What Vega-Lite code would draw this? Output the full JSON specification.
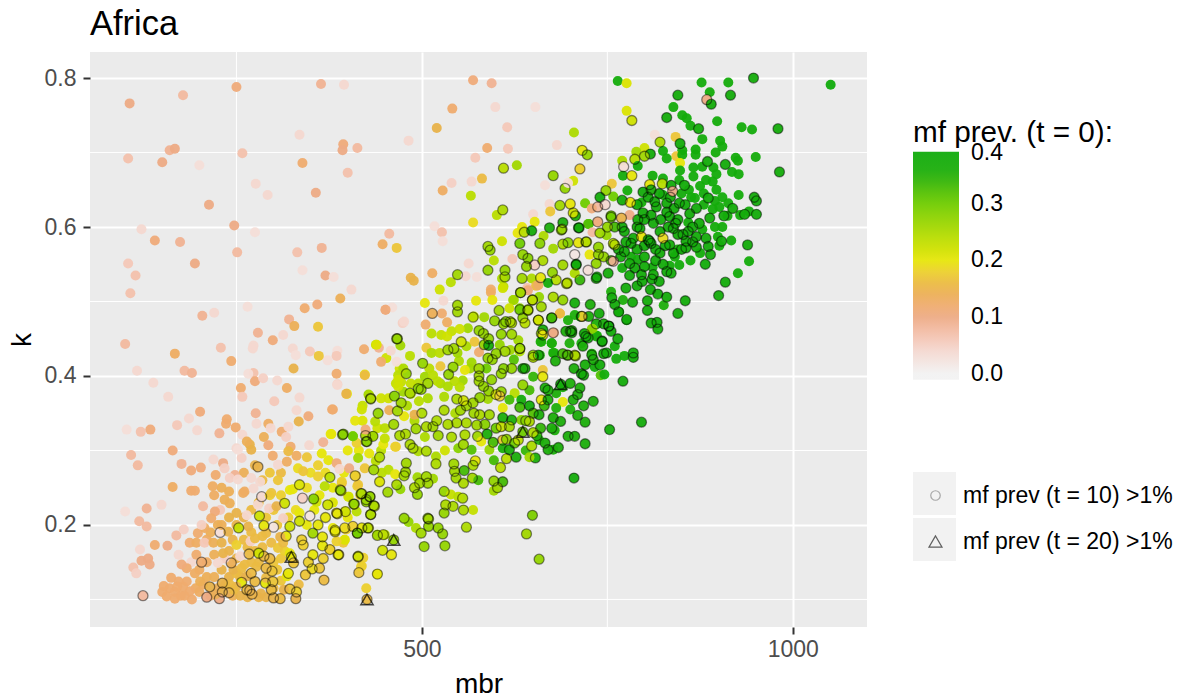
{"$schema":"https://vega.github.io/schema/vega-lite/v6.json","width":777,"height":575,"autosize":{"type":"none"},"padding":{"left":90,"top":52,"right":314,"bottom":71},"background":"white","view":{"fill":"#EBEBEB","stroke":null},"title":{"text":"Africa","anchor":"start","frame":"group","font":"Liberation Sans","fontSize":34.5,"fontWeight":"normal","color":"#000","offset":9},"config":{"font":"Liberation Sans"},"datasets":{"pts":[
{"mbr":790,"k":0.6,"prev":0.38,"ring":"t10"},{"mbr":800,"k":0.61,"prev":0.38,"ring":"t10"},{"mbr":812,"k":0.605,"prev":0.38,"ring":"t10"},{"mbr":822,"k":0.61,"prev":0.38,"ring":"t10"},{"mbr":832,"k":0.6,"prev":0.38,"ring":"t10"},{"mbr":842,"k":0.605,"prev":0.38,"ring":"t10"},{"mbr":852,"k":0.59,"prev":0.38,"ring":"t10"},{"mbr":865,"k":0.6,"prev":0.38,"ring":"t10"},{"mbr":878,"k":0.597,"prev":0.38},{"mbr":895,"k":0.6,"prev":0.38},{"mbr":905,"k":0.6,"prev":0.38},{"mbr":785,"k":0.585,"prev":0.38,"ring":"t10"},{"mbr":800,"k":0.575,"prev":0.38,"ring":"t10"},{"mbr":815,"k":0.57,"prev":0.38,"ring":"t10"},{"mbr":828,"k":0.575,"prev":0.38,"ring":"t10"},{"mbr":845,"k":0.59,"prev":0.38,"ring":"t10"},{"mbr":850,"k":0.57,"prev":0.38,"ring":"t10"},{"mbr":865,"k":0.58,"prev":0.38,"ring":"t10"},{"mbr":875,"k":0.565,"prev":0.38},{"mbr":830,"k":0.62,"prev":0.38,"ring":"t10"},{"mbr":840,"k":0.625,"prev":0.38,"ring":"t10"},{"mbr":855,"k":0.63,"prev":0.38,"ring":"t10"},{"mbr":870,"k":0.625,"prev":0.38,"ring":"t10"},{"mbr":880,"k":0.63,"prev":0.38},{"mbr":895,"k":0.635,"prev":0.38},{"mbr":905,"k":0.64,"prev":0.38},{"mbr":820,"k":0.645,"prev":0.38,"ring":"t10"},{"mbr":835,"k":0.64,"prev":0.38,"ring":"t10"},{"mbr":860,"k":0.65,"prev":0.38},{"mbr":875,"k":0.655,"prev":0.38},{"mbr":790,"k":0.63,"prev":0.38,"ring":"t10"},{"mbr":805,"k":0.64,"prev":0.38,"ring":"t10"},{"mbr":770,"k":0.6,"prev":0.38,"ring":"t10"},{"mbr":760,"k":0.6,"prev":0.33,"ring":"t10"},{"mbr":750,"k":0.6,"prev":0.27,"ring":"t10"},{"mbr":775,"k":0.58,"prev":0.38,"ring":"t10"},{"mbr":765,"k":0.57,"prev":0.38,"ring":"t10"},{"mbr":815,"k":0.555,"prev":0.38,"ring":"t10"},{"mbr":825,"k":0.55,"prev":0.38,"ring":"t10"},{"mbr":845,"k":0.57,"prev":0.38},{"mbr":800,"k":0.56,"prev":0.38,"ring":"t10"},{"mbr":790,"k":0.57,"prev":0.38,"ring":"t10"},{"mbr":810,"k":0.53,"prev":0.38,"ring":"t10"},{"mbr":780,"k":0.535,"prev":0.38,"ring":"t10"},{"mbr":770,"k":0.545,"prev":0.38},{"mbr":755,"k":0.555,"prev":0.33,"ring":"t10"},{"mbr":745,"k":0.56,"prev":0.27,"ring":"t10"},
{"mbr":745,"k":0.47,"prev":0.37,"ring":"t10"},{"mbr":755,"k":0.46,"prev":0.38,"ring":"t10"},{"mbr":735,"k":0.47,"prev":0.36,"ring":"t10"},{"mbr":725,"k":0.48,"prev":0.36,"ring":"t10"},{"mbr":760,"k":0.44,"prev":0.38},{"mbr":745,"k":0.43,"prev":0.38,"ring":"t10"},{"mbr":700,"k":0.46,"prev":0.34,"ring":"t10"},{"mbr":690,"k":0.43,"prev":0.33,"ring":"t10"},{"mbr":680,"k":0.42,"prev":0.36,"ring":"t10"},{"mbr":740,"k":0.415,"prev":0.38,"ring":"t10"},{"mbr":700,"k":0.39,"prev":0.36,"ring":"t10"},{"mbr":690,"k":0.385,"prev":0.36},{"mbr":705,"k":0.41,"prev":0.36,"ring":"t10"},{"mbr":720,"k":0.415,"prev":0.37,"ring":"t10"},{"mbr":665,"k":0.36,"prev":0.34,"ring":"t10"},{"mbr":650,"k":0.35,"prev":0.32,"ring":"t10"},{"mbr":640,"k":0.34,"prev":0.31,"ring":"t10"},{"mbr":675,"k":0.33,"prev":0.36,"ring":"t10"},{"mbr":660,"k":0.33,"prev":0.34,"ring":"t10"},{"mbr":625,"k":0.31,"prev":0.3,"ring":"t10"},{"mbr":640,"k":0.3,"prev":0.34},{"mbr":655,"k":0.32,"prev":0.34,"ring":"t10"},{"mbr":600,"k":0.33,"prev":0.3,"ring":"t10"},{"mbr":585,"k":0.335,"prev":0.28,"ring":"t10"},
{"mbr":500,"k":0.35,"prev":0.25,"ring":"t10"},{"mbr":480,"k":0.36,"prev":0.25},{"mbr":520,"k":0.34,"prev":0.25,"ring":"t10"},{"mbr":535,"k":0.335,"prev":0.25,"ring":"t10"},{"mbr":560,"k":0.36,"prev":0.26,"ring":"t10"},{"mbr":570,"k":0.35,"prev":0.26,"ring":"t10"},{"mbr":545,"k":0.35,"prev":0.25},{"mbr":590,"k":0.38,"prev":0.27,"ring":"t10"},{"mbr":610,"k":0.41,"prev":0.28,"ring":"t10"},{"mbr":600,"k":0.43,"prev":0.27,"ring":"t10"},{"mbr":565,"k":0.41,"prev":0.26},{"mbr":550,"k":0.42,"prev":0.25},{"mbr":590,"k":0.45,"prev":0.27,"ring":"t10"},{"mbr":610,"k":0.47,"prev":0.27,"ring":"t10"},{"mbr":560,"k":0.44,"prev":0.25},{"mbr":540,"k":0.46,"prev":0.23},{"mbr":570,"k":0.48,"prev":0.23},{"mbr":525,"k":0.39,"prev":0.25},{"mbr":510,"k":0.41,"prev":0.24},{"mbr":495,"k":0.39,"prev":0.24},{"mbr":485,"k":0.39,"prev":0.23},{"mbr":470,"k":0.41,"prev":0.22},{"mbr":455,"k":0.37,"prev":0.22},{"mbr":445,"k":0.37,"prev":0.22},{"mbr":440,"k":0.33,"prev":0.22},{"mbr":420,"k":0.34,"prev":0.21},{"mbr":410,"k":0.34,"prev":0.2},{"mbr":450,"k":0.33,"prev":0.24},{"mbr":470,"k":0.32,"prev":0.25,"ring":"t10"},{"mbr":490,"k":0.34,"prev":0.25},{"mbr":415,"k":0.3,"prev":0.2},{"mbr":400,"k":0.3,"prev":0.2},{"mbr":445,"k":0.3,"prev":0.24},{"mbr":395,"k":0.27,"prev":0.2},{"mbr":380,"k":0.25,"prev":0.2},{"mbr":370,"k":0.27,"prev":0.19},{"mbr":360,"k":0.28,"prev":0.18},{"mbr":350,"k":0.27,"prev":0.19},{"mbr":345,"k":0.25,"prev":0.19},{"mbr":370,"k":0.21,"prev":0.2,"ring":"t10"},{"mbr":355,"k":0.22,"prev":0.2},{"mbr":380,"k":0.23,"prev":0.21},{"mbr":400,"k":0.21,"prev":0.2},{"mbr":360,"k":0.2,"prev":0.2,"ring":"t10"},{"mbr":345,"k":0.2,"prev":0.2},{"mbr":330,"k":0.22,"prev":0.19},{"mbr":320,"k":0.21,"prev":0.18},{"mbr":305,"k":0.2,"prev":0.17},
{"mbr":200,"k":0.14,"prev":0.13},{"mbr":210,"k":0.13,"prev":0.14},{"mbr":220,"k":0.13,"prev":0.14},{"mbr":230,"k":0.14,"prev":0.15},{"mbr":240,"k":0.13,"prev":0.15},{"mbr":210,"k":0.15,"prev":0.13},{"mbr":220,"k":0.16,"prev":0.14},{"mbr":240,"k":0.165,"prev":0.15},{"mbr":250,"k":0.155,"prev":0.15},{"mbr":265,"k":0.17,"prev":0.16},{"mbr":275,"k":0.165,"prev":0.16},{"mbr":285,"k":0.17,"prev":0.16},{"mbr":280,"k":0.15,"prev":0.16},{"mbr":270,"k":0.15,"prev":0.16},{"mbr":255,"k":0.13,"prev":0.15},{"mbr":235,"k":0.12,"prev":0.15},{"mbr":225,"k":0.115,"prev":0.14},{"mbr":215,"k":0.105,"prev":0.13},{"mbr":200,"k":0.11,"prev":0.13},{"mbr":195,"k":0.115,"prev":0.13},{"mbr":190,"k":0.1,"prev":0.12},{"mbr":205,"k":0.12,"prev":0.13},{"mbr":175,"k":0.105,"prev":0.12},{"mbr":180,"k":0.105,"prev":0.12},{"mbr":160,"k":0.115,"prev":0.12},{"mbr":150,"k":0.11,"prev":0.12},{"mbr":245,"k":0.105,"prev":0.14},{"mbr":255,"k":0.105,"prev":0.15},{"mbr":265,"k":0.103,"prev":0.15},{"mbr":280,"k":0.103,"prev":0.15},{"mbr":290,"k":0.103,"prev":0.15},{"mbr":300,"k":0.115,"prev":0.16},{"mbr":310,"k":0.125,"prev":0.17},{"mbr":305,"k":0.14,"prev":0.17},{"mbr":310,"k":0.155,"prev":0.17},{"mbr":315,"k":0.165,"prev":0.18},{"mbr":300,"k":0.15,"prev":0.17},{"mbr":285,"k":0.185,"prev":0.16},{"mbr":270,"k":0.19,"prev":0.16},{"mbr":260,"k":0.21,"prev":0.15},{"mbr":270,"k":0.22,"prev":0.16},{"mbr":280,"k":0.23,"prev":0.16},{"mbr":250,"k":0.2,"prev":0.15},{"mbr":240,"k":0.21,"prev":0.15},{"mbr":225,"k":0.2,"prev":0.14},{"mbr":215,"k":0.19,"prev":0.14},{"mbr":210,"k":0.18,"prev":0.13},{"mbr":260,"k":0.18,"prev":0.16},{"mbr":245,"k":0.18,"prev":0.15},{"mbr":290,"k":0.21,"prev":0.17},{"mbr":300,"k":0.22,"prev":0.17},{"mbr":310,"k":0.24,"prev":0.18},{"mbr":285,"k":0.26,"prev":0.16},{"mbr":295,"k":0.27,"prev":0.17},{"mbr":310,"k":0.27,"prev":0.16},{"mbr":275,"k":0.28,"prev":0.15},{"mbr":260,"k":0.27,"prev":0.14},{"mbr":240,"k":0.245,"prev":0.14},{"mbr":230,"k":0.25,"prev":0.14},{"mbr":220,"k":0.24,"prev":0.13},
{"mbr":106,"k":0.766,"prev":0.1},{"mbr":178,"k":0.777,"prev":0.08},{"mbr":250,"k":0.788,"prev":0.11},{"mbr":364,"k":0.792,"prev":0.09},{"mbr":395,"k":0.791,"prev":0.04},{"mbr":335,"k":0.724,"prev":0.04},{"mbr":394,"k":0.711,"prev":0.11},{"mbr":393,"k":0.703,"prev":0.1},{"mbr":413,"k":0.706,"prev":0.08},{"mbr":482,"k":0.716,"prev":0.04},{"mbr":160,"k":0.703,"prev":0.09},{"mbr":167,"k":0.705,"prev":0.1},{"mbr":104,"k":0.692,"prev":0.07},{"mbr":150,"k":0.687,"prev":0.1},{"mbr":200,"k":0.683,"prev":0.03},{"mbr":258,"k":0.699,"prev":0.07},{"mbr":339,"k":0.686,"prev":0.12},{"mbr":400,"k":0.673,"prev":0.07},{"mbr":276,"k":0.658,"prev":0.04},{"mbr":292,"k":0.643,"prev":0.04},{"mbr":357,"k":0.646,"prev":0.1},{"mbr":213,"k":0.63,"prev":0.1},{"mbr":247,"k":0.602,"prev":0.1},{"mbr":122,"k":0.597,"prev":0.04},{"mbr":275,"k":0.593,"prev":0.03},{"mbr":140,"k":0.582,"prev":0.11},{"mbr":174,"k":0.58,"prev":0.09},{"mbr":251,"k":0.566,"prev":0.08},{"mbr":332,"k":0.566,"prev":0.07},{"mbr":365,"k":0.572,"prev":0.09},{"mbr":456,"k":0.591,"prev":0.08},{"mbr":447,"k":0.577,"prev":0.13},{"mbr":466,"k":0.572,"prev":0.17},{"mbr":104,"k":0.551,"prev":0.06},{"mbr":114,"k":0.535,"prev":0.07},{"mbr":107,"k":0.511,"prev":0.07},{"mbr":194,"k":0.551,"prev":0.1},{"mbr":339,"k":0.542,"prev":0.03},{"mbr":370,"k":0.535,"prev":0.1},{"mbr":381,"k":0.533,"prev":0.03},{"mbr":485,"k":0.532,"prev":0.15},{"mbr":489,"k":0.528,"prev":0.15},{"mbr":405,"k":0.516,"prev":0.04},{"mbr":390,"k":0.504,"prev":0.14},{"mbr":359,"k":0.496,"prev":0.11},{"mbr":342,"k":0.491,"prev":0.12},{"mbr":265,"k":0.493,"prev":0.03},{"mbr":204,"k":0.481,"prev":0.09},{"mbr":220,"k":0.485,"prev":0.04},{"mbr":321,"k":0.476,"prev":0.09},{"mbr":328,"k":0.467,"prev":0.14},{"mbr":360,"k":0.466,"prev":0.17},{"mbr":451,"k":0.489,"prev":0.1},{"mbr":460,"k":0.492,"prev":0.03},{"mbr":474,"k":0.471,"prev":0.05},{"mbr":279,"k":0.458,"prev":0.09},{"mbr":313,"k":0.455,"prev":0.04},{"mbr":299,"k":0.448,"prev":0.11},{"mbr":100,"k":0.443,"prev":0.08},{"mbr":273,"k":0.441,"prev":0.04},{"mbr":272,"k":0.437,"prev":0.04},{"mbr":326,"k":0.437,"prev":0.04},{"mbr":330,"k":0.428,"prev":0.03},{"mbr":349,"k":0.433,"prev":0.06},{"mbr":386,"k":0.434,"prev":0.03},{"mbr":385,"k":0.427,"prev":0.06},{"mbr":373,"k":0.421,"prev":0.03},{"mbr":361,"k":0.427,"prev":0.17},{"mbr":422,"k":0.436,"prev":0.12},{"mbr":438,"k":0.442,"prev":0.23},{"mbr":442,"k":0.438,"prev":0.09},{"mbr":452,"k":0.424,"prev":0.22},{"mbr":445,"k":0.419,"prev":0.12},{"mbr":458,"k":0.434,"prev":0.04},{"mbr":466,"k":0.419,"prev":0.03},{"mbr":167,"k":0.43,"prev":0.13},{"mbr":229,"k":0.438,"prev":0.07},{"mbr":243,"k":0.42,"prev":0.12},{"mbr":116,"k":0.407,"prev":0.04},{"mbr":180,"k":0.407,"prev":0.08},{"mbr":190,"k":0.404,"prev":0.09},{"mbr":327,"k":0.41,"prev":0.15},{"mbr":385,"k":0.403,"prev":0.12},{"mbr":423,"k":0.402,"prev":0.2},{"mbr":484,"k":0.427,"prev":0.24},{"mbr":138,"k":0.391,"prev":0.04},{"mbr":273,"k":0.404,"prev":0.07},{"mbr":266,"k":0.403,"prev":0.03},{"mbr":275,"k":0.393,"prev":0.11},{"mbr":286,"k":0.397,"prev":0.05},{"mbr":305,"k":0.394,"prev":0.04},{"mbr":256,"k":0.384,"prev":0.12},{"mbr":318,"k":0.384,"prev":0.13},{"mbr":386,"k":0.389,"prev":0.05},{"mbr":399,"k":0.376,"prev":0.2},{"mbr":158,"k":0.372,"prev":0.04},{"mbr":258,"k":0.372,"prev":0.06},{"mbr":301,"k":0.366,"prev":0.06},{"mbr":335,"k":0.371,"prev":0.04},
{"mbr":466,"k":0.45,"prev":0.26,"ring":"t10"},{"mbr":471,"k":0.441,"prev":0.26},{"mbr":479,"k":0.403,"prev":0.27,"ring":"t10"},{"mbr":475,"k":0.41,"prev":0.25},{"mbr":468,"k":0.401,"prev":0.24},{"mbr":465,"k":0.39,"prev":0.23},{"mbr":472,"k":0.392,"prev":0.23},{"mbr":431,"k":0.37,"prev":0.26,"ring":"t10"},{"mbr":428,"k":0.375,"prev":0.26},{"mbr":463,"k":0.373,"prev":0.28,"ring":"t10"},{"mbr":484,"k":0.377,"prev":0.27,"ring":"t10"},{"mbr":495,"k":0.383,"prev":0.28,"ring":"t10"},{"mbr":475,"k":0.379,"prev":0.26},
{"mbr":569,"k":0.797,"prev":0.11},{"mbr":594,"k":0.793,"prev":0.09},{"mbr":541,"k":0.759,"prev":0.12},{"mbr":599,"k":0.761,"prev":0.04},{"mbr":653,"k":0.761,"prev":0.03},{"mbr":615,"k":0.734,"prev":0.06},{"mbr":520,"k":0.733,"prev":0.15},{"mbr":705,"k":0.727,"prev":0.25},{"mbr":588,"k":0.706,"prev":0.12},{"mbr":616,"k":0.705,"prev":0.06},{"mbr":682,"k":0.71,"prev":0.04},{"mbr":572,"k":0.693,"prev":0.06},{"mbr":716,"k":0.703,"prev":0.2,"ring":"t10"},{"mbr":723,"k":0.697,"prev":0.27,"ring":"t10"},{"mbr":610,"k":0.679,"prev":0.24,"ring":"t10"},{"mbr":628,"k":0.683,"prev":0.26},{"mbr":713,"k":0.678,"prev":0.18,"ring":"t10"},{"mbr":677,"k":0.669,"prev":0.27,"ring":"t10"},{"mbr":704,"k":0.662,"prev":0.22},{"mbr":693,"k":0.652,"prev":0.27,"ring":"t10"},{"mbr":581,"k":0.665,"prev":0.16},{"mbr":540,"k":0.659,"prev":0.05},{"mbr":567,"k":0.661,"prev":0.04},{"mbr":528,"k":0.649,"prev":0.13},{"mbr":566,"k":0.642,"prev":0.24},{"mbr":666,"k":0.656,"prev":0.03},{"mbr":697,"k":0.659,"prev":0.03},{"mbr":672,"k":0.631,"prev":0.04},{"mbr":686,"k":0.629,"prev":0.26,"ring":"t10"},{"mbr":700,"k":0.631,"prev":0.2,"ring":"t10"},{"mbr":720,"k":0.632,"prev":0.3},{"mbr":609,"k":0.623,"prev":0.25,"ring":"t10"},{"mbr":601,"k":0.616,"prev":0.24},{"mbr":650,"k":0.617,"prev":0.04},{"mbr":673,"k":0.621,"prev":0.17},{"mbr":569,"k":0.606,"prev":0.19},{"mbr":517,"k":0.601,"prev":0.03},{"mbr":527,"k":0.593,"prev":0.07},{"mbr":528,"k":0.581,"prev":0.03},{"mbr":652,"k":0.607,"prev":0.2},{"mbr":635,"k":0.6,"prev":0.2},{"mbr":629,"k":0.592,"prev":0.2},{"mbr":638,"k":0.593,"prev":0.24,"ring":"t10"},{"mbr":648,"k":0.595,"prev":0.38,"ring":"t10"},{"mbr":664,"k":0.588,"prev":0.25},{"mbr":672,"k":0.599,"prev":0.36,"ring":"t10"},{"mbr":690,"k":0.606,"prev":0.36,"ring":"t10"},{"mbr":689,"k":0.597,"prev":0.27,"ring":"t10"},{"mbr":712,"k":0.599,"prev":0.36,"ring":"t10"},{"mbr":725,"k":0.604,"prev":0.34},{"mbr":707,"k":0.615,"prev":0.35,"ring":"t10"},{"mbr":704,"k":0.619,"prev":0.22,"ring":"t10"},{"mbr":608,"k":0.581,"prev":0.22},{"mbr":632,"k":0.578,"prev":0.3,"ring":"t10"},{"mbr":659,"k":0.578,"prev":0.28,"ring":"t10"},{"mbr":677,"k":0.571,"prev":0.26},{"mbr":690,"k":0.577,"prev":0.25,"ring":"t10"},{"mbr":697,"k":0.579,"prev":0.28,"ring":"t10"},{"mbr":711,"k":0.579,"prev":0.2,"ring":"t10"},{"mbr":721,"k":0.58,"prev":0.3,"ring":"t10"},{"mbr":589,"k":0.574,"prev":0.26,"ring":"t10"},{"mbr":592,"k":0.569,"prev":0.27,"ring":"t10"},{"mbr":597,"k":0.555,"prev":0.24},{"mbr":636,"k":0.563,"prev":0.27,"ring":"t10"},{"mbr":643,"k":0.558,"prev":0.28,"ring":"t10"},{"mbr":663,"k":0.555,"prev":0.25,"ring":"t10"},{"mbr":563,"k":0.551,"prev":0.04},{"mbr":622,"k":0.557,"prev":0.06},{"mbr":706,"k":0.563,"prev":0.02,"ring":"t10"},{"mbr":708,"k":0.549,"prev":0.39,"ring":"t10"},{"mbr":690,"k":0.549,"prev":0.26,"ring":"t10"},{"mbr":652,"k":0.549,"prev":0.05,"ring":"t10"},{"mbr":641,"k":0.547,"prev":0.27,"ring":"t10"},{"mbr":589,"k":0.542,"prev":0.27,"ring":"t10"},{"mbr":612,"k":0.542,"prev":0.27,"ring":"t10"},{"mbr":612,"k":0.533,"prev":0.27,"ring":"t10"},{"mbr":635,"k":0.531,"prev":0.26,"ring":"t10"},{"mbr":660,"k":0.532,"prev":0.2,"ring":"t10"},{"mbr":676,"k":0.539,"prev":0.27,"ring":"t10"},{"mbr":724,"k":0.542,"prev":0.03,"ring":"t10"},{"mbr":548,"k":0.536,"prev":0.26,"ring":"t10"},{"mbr":514,"k":0.538,"prev":0.13},{"mbr":539,"k":0.526,"prev":0.24},{"mbr":559,"k":0.534,"prev":0.04},{"mbr":574,"k":0.533,"prev":0.03},{"mbr":608,"k":0.531,"prev":0.25},{"mbr":648,"k":0.531,"prev":0.25},{"mbr":681,"k":0.529,"prev":0.24,"ring":"t10"},{"mbr":696,"k":0.525,"prev":0.26,"ring":"t10"},{"mbr":713,"k":0.529,"prev":0.34,"ring":"t10"},{"mbr":735,"k":0.531,"prev":0.36,"ring":"t10"},{"mbr":524,"k":0.516,"prev":0.22},{"mbr":593,"k":0.516,"prev":0.12},{"mbr":610,"k":0.52,"prev":0.24},{"mbr":642,"k":0.518,"prev":0.07},
{"mbr":764,"k":0.796,"prev":0.38},{"mbr":776,"k":0.793,"prev":0.21},{"mbr":877,"k":0.794,"prev":0.38},{"mbr":913,"k":0.794,"prev":0.38},{"mbr":947,"k":0.8,"prev":0.38,"ring":"t10"},{"mbr":1051,"k":0.791,"prev":0.39},{"mbr":845,"k":0.777,"prev":0.38,"ring":"t10"},{"mbr":888,"k":0.781,"prev":0.38},{"mbr":916,"k":0.777,"prev":0.38,"ring":"t10"},{"mbr":884,"k":0.771,"prev":0.1,"ring":"t10"},{"mbr":890,"k":0.765,"prev":0.38,"ring":"t10"},{"mbr":839,"k":0.761,"prev":0.38},{"mbr":776,"k":0.756,"prev":0.21},{"mbr":783,"k":0.743,"prev":0.22,"ring":"t10"},{"mbr":851,"k":0.75,"prev":0.38},{"mbr":857,"k":0.746,"prev":0.38},{"mbr":830,"k":0.747,"prev":0.38,"ring":"t10"},{"mbr":898,"k":0.742,"prev":0.38},{"mbr":862,"k":0.736,"prev":0.38},{"mbr":873,"k":0.732,"prev":0.38,"ring":"t10"},{"mbr":931,"k":0.734,"prev":0.38},{"mbr":945,"k":0.731,"prev":0.38},{"mbr":980,"k":0.732,"prev":0.38,"ring":"t10"},{"mbr":878,"k":0.718,"prev":0.38},{"mbr":814,"k":0.724,"prev":0.03},{"mbr":842,"k":0.721,"prev":0.17},{"mbr":821,"k":0.714,"prev":0.25,"ring":"t10"},{"mbr":848,"k":0.712,"prev":0.38,"ring":"t10"},{"mbr":902,"k":0.716,"prev":0.38},{"mbr":905,"k":0.708,"prev":0.38},{"mbr":869,"k":0.704,"prev":0.38},{"mbr":851,"k":0.703,"prev":0.38},{"mbr":825,"k":0.702,"prev":0.38},{"mbr":896,"k":0.7,"prev":0.38},{"mbr":869,"k":0.697,"prev":0.38},{"mbr":843,"k":0.695,"prev":0.17},{"mbr":830,"k":0.692,"prev":0.38},{"mbr":851,"k":0.697,"prev":0.38},{"mbr":800,"k":0.706,"prev":0.22},{"mbr":789,"k":0.701,"prev":0.26},{"mbr":808,"k":0.698,"prev":0.38,"ring":"t10"},{"mbr":800,"k":0.695,"prev":0.26,"ring":"t10"},{"mbr":787,"k":0.691,"prev":0.24,"ring":"t10"},{"mbr":770,"k":0.689,"prev":0.25},{"mbr":772,"k":0.681,"prev":0.03,"ring":"t10"},{"mbr":791,"k":0.682,"prev":0.38},{"mbr":848,"k":0.686,"prev":0.2},{"mbr":848,"k":0.676,"prev":0.38},{"mbr":866,"k":0.68,"prev":0.38},{"mbr":878,"k":0.681,"prev":0.38},{"mbr":885,"k":0.688,"prev":0.38,"ring":"t10"},{"mbr":893,"k":0.68,"prev":0.38},{"mbr":909,"k":0.684,"prev":0.38,"ring":"t10"},{"mbr":923,"k":0.693,"prev":0.38},{"mbr":926,"k":0.689,"prev":0.38},{"mbr":950,"k":0.694,"prev":0.38},{"mbr":918,"k":0.674,"prev":0.38},{"mbr":927,"k":0.671,"prev":0.38},{"mbr":897,"k":0.671,"prev":0.38},{"mbr":982,"k":0.674,"prev":0.38,"ring":"t10"},{"mbr":771,"k":0.669,"prev":0.38},{"mbr":783,"k":0.669,"prev":0.2,"ring":"t10"},{"mbr":811,"k":0.669,"prev":0.38},{"mbr":866,"k":0.668,"prev":0.38},{"mbr":883,"k":0.663,"prev":0.38},{"mbr":825,"k":0.665,"prev":0.38},{"mbr":847,"k":0.663,"prev":0.38},{"mbr":854,"k":0.656,"prev":0.38,"ring":"t10"},{"mbr":807,"k":0.657,"prev":0.2,"ring":"t10"},{"mbr":824,"k":0.658,"prev":0.24,"ring":"t10"},{"mbr":836,"k":0.656,"prev":0.38,"ring":"t10"},{"mbr":892,"k":0.661,"prev":0.38},{"mbr":897,"k":0.65,"prev":0.38},{"mbr":756,"k":0.658,"prev":0.17},{"mbr":748,"k":0.649,"prev":0.27,"ring":"t10"},{"mbr":777,"k":0.649,"prev":0.38},{"mbr":798,"k":0.647,"prev":0.38,"ring":"t10"},{"mbr":809,"k":0.65,"prev":0.36,"ring":"t10"},{"mbr":838,"k":0.648,"prev":0.1,"ring":"t10"},{"mbr":825,"k":0.643,"prev":0.38},{"mbr":850,"k":0.645,"prev":0.38},{"mbr":863,"k":0.64,"prev":0.38},{"mbr":880,"k":0.645,"prev":0.38},{"mbr":886,"k":0.639,"prev":0.38,"ring":"t10"},{"mbr":927,"k":0.643,"prev":0.38},{"mbr":948,"k":0.64,"prev":0.38,"ring":"t10"},{"mbr":951,"k":0.635,"prev":0.38,"ring":"t10"},{"mbr":740,"k":0.64,"prev":0.38,"ring":"t10"},{"mbr":758,"k":0.641,"prev":0.3},{"mbr":770,"k":0.636,"prev":0.38,"ring":"t10"},{"mbr":781,"k":0.633,"prev":0.2,"ring":"t10"},{"mbr":796,"k":0.633,"prev":0.38},{"mbr":814,"k":0.634,"prev":0.38,"ring":"t10"},{"mbr":830,"k":0.632,"prev":0.38,"ring":"t10"},{"mbr":847,"k":0.632,"prev":0.38,"ring":"t10"},{"mbr":868,"k":0.639,"prev":0.38},{"mbr":892,"k":0.624,"prev":0.38},{"mbr":901,"k":0.627,"prev":0.38},{"mbr":919,"k":0.625,"prev":0.38,"ring":"t10"},{"mbr":913,"k":0.632,"prev":0.38},{"mbr":907,"k":0.615,"prev":0.38,"ring":"t10"},{"mbr":912,"k":0.615,"prev":0.38},{"mbr":929,"k":0.616,"prev":0.38},{"mbr":935,"k":0.617,"prev":0.38,"ring":"t10"},{"mbr":941,"k":0.621,"prev":0.38},{"mbr":951,"k":0.617,"prev":0.38,"ring":"t10"},{"mbr":888,"k":0.612,"prev":0.38,"ring":"t10"},{"mbr":874,"k":0.605,"prev":0.38,"ring":"t10"},{"mbr":861,"k":0.618,"prev":0.38,"ring":"t10"},{"mbr":859,"k":0.606,"prev":0.38},{"mbr":845,"k":0.61,"prev":0.38,"ring":"t10"},{"mbr":834,"k":0.614,"prev":0.38,"ring":"t10"},{"mbr":816,"k":0.627,"prev":0.38,"ring":"t10"},{"mbr":809,"k":0.616,"prev":0.38,"ring":"t10"},{"mbr":798,"k":0.619,"prev":0.38,"ring":"t10"},{"mbr":791,"k":0.61,"prev":0.38,"ring":"t10"},{"mbr":780,"k":0.616,"prev":0.1},{"mbr":769,"k":0.612,"prev":0.15,"ring":"t10"},{"mbr":755,"k":0.615,"prev":0.3,"ring":"t10"},{"mbr":755,"k":0.613,"prev":0.3,"ring":"t10"},{"mbr":747,"k":0.63,"prev":0.04,"ring":"t10"},{"mbr":737,"k":0.627,"prev":0.08,"ring":"t10"},{"mbr":729,"k":0.625,"prev":0.11},{"mbr":737,"k":0.607,"prev":0.11,"ring":"t10"},{"mbr":724,"k":0.604,"prev":0.32},{"mbr":711,"k":0.599,"prev":0.38,"ring":"t10"},{"mbr":688,"k":0.596,"prev":0.27,"ring":"t10"},{"mbr":722,"k":0.58,"prev":0.24,"ring":"t10"},{"mbr":730,"k":0.593,"prev":0.08},{"mbr":740,"k":0.592,"prev":0.26,"ring":"t10"},{"mbr":760,"k":0.576,"prev":0.27,"ring":"t10"},{"mbr":749,"k":0.589,"prev":0.27},{"mbr":773,"k":0.594,"prev":0.38,"ring":"t10"},{"mbr":758,"k":0.578,"prev":0.24,"ring":"t10"},{"mbr":782,"k":0.578,"prev":0.38,"ring":"t10"},{"mbr":794,"k":0.598,"prev":0.38,"ring":"t10"},{"mbr":796,"k":0.587,"prev":0.2,"ring":"t10"},{"mbr":807,"k":0.581,"prev":0.38,"ring":"t10"},{"mbr":821,"k":0.594,"prev":0.38,"ring":"t10"},{"mbr":834,"k":0.576,"prev":0.38,"ring":"t10"},{"mbr":825,"k":0.585,"prev":0.19,"ring":"t10"},{"mbr":839,"k":0.598,"prev":0.38,"ring":"t10"},{"mbr":859,"k":0.594,"prev":0.38,"ring":"t10"},{"mbr":856,"k":0.581,"prev":0.38,"ring":"t10"},{"mbr":870,"k":0.587,"prev":0.38,"ring":"t10"},{"mbr":883,"k":0.585,"prev":0.38,"ring":"t10"},{"mbr":899,"k":0.587,"prev":0.38},{"mbr":904,"k":0.581,"prev":0.38,"ring":"t10"},{"mbr":901,"k":0.575,"prev":0.38},{"mbr":917,"k":0.582,"prev":0.38},{"mbr":939,"k":0.576,"prev":0.38,"ring":"t10"},{"mbr":886,"k":0.574,"prev":0.38,"ring":"t10"},{"mbr":856,"k":0.572,"prev":0.38,"ring":"t10"},{"mbr":870,"k":0.573,"prev":0.38,"ring":"t10"},{"mbr":889,"k":0.563,"prev":0.38,"ring":"t10"},{"mbr":941,"k":0.554,"prev":0.38},{"mbr":862,"k":0.555,"prev":0.38},{"mbr":882,"k":0.55,"prev":0.38,"ring":"t10"},{"mbr":926,"k":0.538,"prev":0.38},{"mbr":909,"k":0.526,"prev":0.38,"ring":"t10"},{"mbr":900,"k":0.508,"prev":0.38,"ring":"t10"},{"mbr":855,"k":0.501,"prev":0.38,"ring":"t10"},{"mbr":830,"k":0.506,"prev":0.38,"ring":"t10"},{"mbr":845,"k":0.484,"prev":0.38,"ring":"t10"},{"mbr":826,"k":0.495,"prev":0.36},{"mbr":818,"k":0.51,"prev":0.38,"ring":"t10"},{"mbr":804,"k":0.501,"prev":0.38,"ring":"t10"},{"mbr":804,"k":0.488,"prev":0.38,"ring":"t10"},{"mbr":809,"k":0.471,"prev":0.38,"ring":"t10"},{"mbr":817,"k":0.472,"prev":0.38,"ring":"t10"},{"mbr":818,"k":0.463,"prev":0.38,"ring":"t10"},{"mbr":776,"k":0.476,"prev":0.38,"ring":"t10"},{"mbr":765,"k":0.486,"prev":0.38,"ring":"t10"},{"mbr":784,"k":0.499,"prev":0.38,"ring":"t10"},{"mbr":771,"k":0.502,"prev":0.36},{"mbr":755,"k":0.513,"prev":0.36},{"mbr":760,"k":0.496,"prev":0.38,"ring":"t10"},{"mbr":756,"k":0.505,"prev":0.38,"ring":"t10"},{"mbr":775,"k":0.518,"prev":0.38,"ring":"t10"},{"mbr":790,"k":0.521,"prev":0.38,"ring":"t10"},{"mbr":808,"k":0.516,"prev":0.38,"ring":"t10"},{"mbr":820,"k":0.527,"prev":0.38,"ring":"t10"},{"mbr":797,"k":0.527,"prev":0.38,"ring":"t10"},{"mbr":812,"k":0.536,"prev":0.38,"ring":"t10"},{"mbr":796,"k":0.536,"prev":0.38,"ring":"t10"},{"mbr":800,"k":0.547,"prev":0.38,"ring":"t10"},{"mbr":787,"k":0.545,"prev":0.38,"ring":"t10"},{"mbr":780,"k":0.551,"prev":0.38,"ring":"t10"},{"mbr":773,"k":0.567,"prev":0.38,"ring":"t10"},{"mbr":768,"k":0.56,"prev":0.38,"ring":"t10"},{"mbr":782,"k":0.56,"prev":0.38},{"mbr":791,"k":0.556,"prev":0.38},{"mbr":811,"k":0.546,"prev":0.38},{"mbr":830,"k":0.54,"prev":0.38,"ring":"t10"},{"mbr":836,"k":0.538,"prev":0.38,"ring":"t10"},{"mbr":834,"k":0.548,"prev":0.38},{"mbr":847,"k":0.549,"prev":0.38},{"mbr":821,"k":0.565,"prev":0.38,"ring":"t10"},{"mbr":839,"k":0.565,"prev":0.38,"ring":"t10"},{"mbr":841,"k":0.56,"prev":0.38},{"mbr":805,"k":0.583,"prev":0.38,"ring":"t10"},{"mbr":809,"k":0.578,"prev":0.38,"ring":"t10"},{"mbr":751,"k":0.538,"prev":0.38,"ring":"t10"},{"mbr":736,"k":0.533,"prev":0.38,"ring":"t10"},{"mbr":708,"k":0.55,"prev":0.38,"ring":"t10"},{"mbr":758,"k":0.554,"prev":0.09,"ring":"t10"},{"mbr":726,"k":0.563,"prev":0.2},{"mbr":738,"k":0.573,"prev":0.27,"ring":"t10"},{"mbr":738,"k":0.563,"prev":0.27,"ring":"t10"},{"mbr":735,"k":0.551,"prev":0.27,"ring":"t10"},{"mbr":706,"k":0.538,"prev":0.25},{"mbr":695,"k":0.524,"prev":0.24,"ring":"t10"},{"mbr":670,"k":0.525,"prev":0.38},{"mbr":654,"k":0.521,"prev":0.16},{"mbr":643,"k":0.515,"prev":0.11},{"mbr":633,"k":0.512,"prev":0.22,"ring":"t10"},{"mbr":623,"k":0.502,"prev":0.26},{"mbr":649,"k":0.502,"prev":0.22,"ring":"t10"},{"mbr":658,"k":0.506,"prev":0.27},{"mbr":677,"k":0.506,"prev":0.25,"ring":"t10"},{"mbr":690,"k":0.502,"prev":0.27,"ring":"t10"},{"mbr":706,"k":0.498,"prev":0.38,"ring":"t10"},{"mbr":715,"k":0.48,"prev":0.2,"ring":"t10"},{"mbr":727,"k":0.496,"prev":0.36,"ring":"t10"},{"mbr":739,"k":0.484,"prev":0.38,"ring":"t10"},{"mbr":686,"k":0.484,"prev":0.15},{"mbr":675,"k":0.478,"prev":0.38,"ring":"t10"},{"mbr":661,"k":0.493,"prev":0.26,"ring":"t10"},{"mbr":643,"k":0.489,"prev":0.26,"ring":"t10"},{"mbr":632,"k":0.491,"prev":0.27},{"mbr":619,"k":0.473,"prev":0.26,"ring":"t10"},{"mbr":636,"k":0.478,"prev":0.27,"ring":"t10"},{"mbr":657,"k":0.475,"prev":0.24,"ring":"t10"},{"mbr":663,"k":0.462,"prev":0.38,"ring":"t10"},{"mbr":677,"k":0.458,"prev":0.1,"ring":"t10"},{"mbr":697,"k":0.475,"prev":0.36},{"mbr":713,"k":0.48,"prev":0.36},{"mbr":702,"k":0.458,"prev":0.38,"ring":"t10"},{"mbr":721,"k":0.453,"prev":0.38,"ring":"t10"},{"mbr":736,"k":0.454,"prev":0.38},{"mbr":743,"k":0.447,"prev":0.38,"ring":"t10"},{"mbr":752,"k":0.467,"prev":0.36,"ring":"t10"},{"mbr":764,"k":0.45,"prev":0.38,"ring":"t10"},{"mbr":730,"k":0.463,"prev":0.24},{"mbr":675,"k":0.444,"prev":0.38},{"mbr":661,"k":0.446,"prev":0.36},{"mbr":697,"k":0.428,"prev":0.2,"ring":"t10"},{"mbr":677,"k":0.431,"prev":0.38},{"mbr":657,"k":0.428,"prev":0.38,"ring":"t10"},{"mbr":632,"k":0.437,"prev":0.26,"ring":"t10"},{"mbr":619,"k":0.435,"prev":0.26},{"mbr":650,"k":0.428,"prev":0.27,"ring":"t10"},{"mbr":729,"k":0.428,"prev":0.38,"ring":"t10"},{"mbr":749,"k":0.431,"prev":0.38,"ring":"t10"},{"mbr":773,"k":0.427,"prev":0.38},{"mbr":785,"k":0.431,"prev":0.38,"ring":"t10"},{"mbr":715,"k":0.444,"prev":0.38},{"mbr":706,"k":0.428,"prev":0.25,"ring":"t10"},
{"mbr":504,"k":0.498,"prev":0.2},{"mbr":548,"k":0.495,"prev":0.26,"ring":"t10"},{"mbr":548,"k":0.486,"prev":0.26,"ring":"t10"},{"mbr":573,"k":0.501,"prev":0.2},{"mbr":593,"k":0.512,"prev":0.13},{"mbr":595,"k":0.502,"prev":0.2},{"mbr":633,"k":0.512,"prev":0.26,"ring":"t10"},{"mbr":624,"k":0.502,"prev":0.26},{"mbr":649,"k":0.502,"prev":0.24,"ring":"t10"},{"mbr":657,"k":0.522,"prev":0.13},{"mbr":609,"k":0.518,"prev":0.22},{"mbr":529,"k":0.501,"prev":0.04},{"mbr":451,"k":0.489,"prev":0.11},{"mbr":514,"k":0.484,"prev":0.14,"ring":"t10"},{"mbr":527,"k":0.484,"prev":0.12},{"mbr":534,"k":0.472,"prev":0.13},{"mbr":505,"k":0.469,"prev":0.12},{"mbr":476,"k":0.473,"prev":0.04},{"mbr":569,"k":0.479,"prev":0.24,"ring":"t10"},{"mbr":584,"k":0.479,"prev":0.26},{"mbr":598,"k":0.474,"prev":0.27,"ring":"t10"},{"mbr":604,"k":0.488,"prev":0.26,"ring":"t10"},{"mbr":618,"k":0.491,"prev":0.22},{"mbr":632,"k":0.489,"prev":0.3,"ring":"t10"},{"mbr":643,"k":0.488,"prev":0.25,"ring":"t10"},{"mbr":613,"k":0.473,"prev":0.28,"ring":"t10"},{"mbr":621,"k":0.471,"prev":0.25,"ring":"t10"},{"mbr":639,"k":0.471,"prev":0.24,"ring":"t10"},{"mbr":657,"k":0.475,"prev":0.22,"ring":"t10"},{"mbr":675,"k":0.478,"prev":0.33,"ring":"t10"},{"mbr":686,"k":0.484,"prev":0.16},{"mbr":716,"k":0.48,"prev":0.18,"ring":"t10"},{"mbr":706,"k":0.482,"prev":0.36},{"mbr":766,"k":0.486,"prev":0.38},{"mbr":776,"k":0.475,"prev":0.38},{"mbr":752,"k":0.467,"prev":0.38,"ring":"t10"},{"mbr":562,"k":0.464,"prev":0.26},{"mbr":551,"k":0.463,"prev":0.22},{"mbr":513,"k":0.457,"prev":0.24},{"mbr":526,"k":0.455,"prev":0.23},{"mbr":534,"k":0.453,"prev":0.22},{"mbr":577,"k":0.461,"prev":0.27,"ring":"t10"},{"mbr":583,"k":0.457,"prev":0.27,"ring":"t10"},{"mbr":607,"k":0.456,"prev":0.27,"ring":"t10"},{"mbr":621,"k":0.456,"prev":0.26,"ring":"t10"},{"mbr":630,"k":0.448,"prev":0.26},{"mbr":661,"k":0.457,"prev":0.27,"ring":"t10"},{"mbr":663,"k":0.455,"prev":0.2,"ring":"t10"},{"mbr":678,"k":0.458,"prev":0.1},{"mbr":694,"k":0.46,"prev":0.36,"ring":"t10"},{"mbr":702,"k":0.461,"prev":0.36,"ring":"t10"},{"mbr":719,"k":0.457,"prev":0.38,"ring":"t10"},{"mbr":724,"k":0.451,"prev":0.38,"ring":"t10"},{"mbr":735,"k":0.453,"prev":0.36},{"mbr":743,"k":0.446,"prev":0.38,"ring":"t10"},{"mbr":729,"k":0.463,"prev":0.28},{"mbr":553,"k":0.446,"prev":0.22,"ring":"t10"},{"mbr":571,"k":0.446,"prev":0.17},{"mbr":584,"k":0.442,"prev":0.27,"ring":"t10"},{"mbr":590,"k":0.441,"prev":0.38,"ring":"t10"},{"mbr":605,"k":0.442,"prev":0.27},{"mbr":632,"k":0.437,"prev":0.27,"ring":"t10"},{"mbr":660,"k":0.446,"prev":0.36},{"mbr":675,"k":0.444,"prev":0.36},{"mbr":699,"k":0.444,"prev":0.36},{"mbr":717,"k":0.44,"prev":0.36,"ring":"t10"},{"mbr":467,"k":0.45,"prev":0.27,"ring":"t10"},{"mbr":439,"k":0.442,"prev":0.21},{"mbr":506,"k":0.438,"prev":0.17},{"mbr":513,"k":0.431,"prev":0.25},{"mbr":524,"k":0.431,"prev":0.24},{"mbr":543,"k":0.437,"prev":0.26,"ring":"t10"},{"mbr":535,"k":0.435,"prev":0.26,"ring":"t10"},{"mbr":548,"k":0.431,"prev":0.26},{"mbr":577,"k":0.432,"prev":0.12},{"mbr":612,"k":0.433,"prev":0.26,"ring":"t10"},{"mbr":632,"k":0.433,"prev":0.25},{"mbr":650,"k":0.425,"prev":0.25,"ring":"t10"},{"mbr":659,"k":0.428,"prev":0.36},{"mbr":678,"k":0.431,"prev":0.36},{"mbr":696,"k":0.428,"prev":0.33,"ring":"t10"},{"mbr":707,"k":0.427,"prev":0.25,"ring":"t10"},{"mbr":762,"k":0.423,"prev":0.38},{"mbr":785,"k":0.425,"prev":0.38,"ring":"t10"},{"mbr":729,"k":0.43,"prev":0.36},{"mbr":731,"k":0.422,"prev":0.36,"ring":"t10"},{"mbr":733,"k":0.412,"prev":0.38},{"mbr":741,"k":0.401,"prev":0.32},{"mbr":746,"k":0.402,"prev":0.38},{"mbr":715,"k":0.403,"prev":0.38,"ring":"t10"},{"mbr":718,"k":0.401,"prev":0.38,"ring":"t10"},{"mbr":501,"k":0.417,"prev":0.27,"ring":"t10"},{"mbr":525,"k":0.413,"prev":0.17},{"mbr":542,"k":0.412,"prev":0.27,"ring":"t10"},{"mbr":567,"k":0.418,"prev":0.26},{"mbr":558,"k":0.408,"prev":0.2},{"mbr":536,"k":0.402,"prev":0.27,"ring":"t10"},{"mbr":577,"k":0.41,"prev":0.26,"ring":"t10"},{"mbr":577,"k":0.4,"prev":0.26,"ring":"t10"},{"mbr":577,"k":0.393,"prev":0.26,"ring":"t10"},{"mbr":589,"k":0.424,"prev":0.27,"ring":"t10"},{"mbr":595,"k":0.422,"prev":0.27,"ring":"t10"},{"mbr":587,"k":0.41,"prev":0.3},{"mbr":607,"k":0.403,"prev":0.27,"ring":"t10"},{"mbr":624,"k":0.422,"prev":0.32},{"mbr":636,"k":0.41,"prev":0.36,"ring":"t10"},{"mbr":639,"k":0.41,"prev":0.36,"ring":"t10"},{"mbr":621,"k":0.41,"prev":0.27,"ring":"t10"},{"mbr":663,"k":0.408,"prev":0.17},{"mbr":650,"k":0.399,"prev":0.34},{"mbr":663,"k":0.399,"prev":0.2,"ring":"t10"},{"mbr":687,"k":0.389,"prev":0.38,"ring":"t10","tri":"t20"},{"mbr":645,"k":0.381,"prev":0.33},{"mbr":666,"k":0.384,"prev":0.36,"ring":"t10"},{"mbr":670,"k":0.381,"prev":0.36,"ring":"t10"},{"mbr":681,"k":0.377,"prev":0.36},{"mbr":636,"k":0.388,"prev":0.27,"ring":"t10"},{"mbr":504,"k":0.399,"prev":0.26},{"mbr":515,"k":0.401,"prev":0.24},{"mbr":468,"k":0.395,"prev":0.22},{"mbr":423,"k":0.401,"prev":0.16},{"mbr":386,"k":0.388,"prev":0.04},{"mbr":508,"k":0.39,"prev":0.26,"ring":"t10"},{"mbr":499,"k":0.382,"prev":0.27,"ring":"t10"},{"mbr":521,"k":0.393,"prev":0.24},{"mbr":555,"k":0.394,"prev":0.26},{"mbr":544,"k":0.393,"prev":0.24},{"mbr":535,"k":0.386,"prev":0.25},{"mbr":551,"k":0.385,"prev":0.24},{"mbr":594,"k":0.395,"prev":0.27,"ring":"t10"},{"mbr":583,"k":0.386,"prev":0.27,"ring":"t10"},{"mbr":607,"k":0.379,"prev":0.27,"ring":"t10"},{"mbr":600,"k":0.375,"prev":0.22,"ring":"t10"},{"mbr":605,"k":0.373,"prev":0.18,"ring":"t10"},{"mbr":625,"k":0.377,"prev":0.24},{"mbr":618,"k":0.368,"prev":0.33},{"mbr":468,"k":0.386,"prev":0.22},{"mbr":398,"k":0.376,"prev":0.15},{"mbr":429,"k":0.374,"prev":0.25},{"mbr":431,"k":0.369,"prev":0.25,"ring":"t10"},{"mbr":485,"k":0.376,"prev":0.25},{"mbr":472,"k":0.364,"prev":0.26,"ring":"t10"},{"mbr":496,"k":0.366,"prev":0.24},{"mbr":508,"k":0.37,"prev":0.25},{"mbr":530,"k":0.372,"prev":0.25},{"mbr":547,"k":0.369,"prev":0.25,"ring":"t10"},{"mbr":556,"k":0.367,"prev":0.22,"ring":"t10"},{"mbr":578,"k":0.371,"prev":0.27,"ring":"t10"},{"mbr":569,"k":0.364,"prev":0.26,"ring":"t10"},{"mbr":589,"k":0.369,"prev":0.26},{"mbr":632,"k":0.358,"prev":0.33,"ring":"t10"},{"mbr":634,"k":0.368,"prev":0.38},{"mbr":645,"k":0.36,"prev":0.38,"ring":"t10"},{"mbr":661,"k":0.368,"prev":0.2,"ring":"t10"},{"mbr":670,"k":0.368,"prev":0.36,"ring":"t10"},{"mbr":690,"k":0.365,"prev":0.2},{"mbr":704,"k":0.368,"prev":0.36,"ring":"t10"},{"mbr":710,"k":0.375,"prev":0.36,"ring":"t10"},{"mbr":713,"k":0.384,"prev":0.36,"ring":"t10"},{"mbr":731,"k":0.366,"prev":0.36,"ring":"t10"},{"mbr":718,"k":0.36,"prev":0.36,"ring":"t10"},{"mbr":700,"k":0.355,"prev":0.36},{"mbr":681,"k":0.357,"prev":0.36},{"mbr":710,"k":0.347,"prev":0.36,"ring":"t10"},{"mbr":720,"k":0.338,"prev":0.36,"ring":"t10"},{"mbr":753,"k":0.328,"prev":0.38,"ring":"t10"},{"mbr":796,"k":0.338,"prev":0.38,"ring":"t10"},{"mbr":771,"k":0.393,"prev":0.38,"ring":"t10"},{"mbr":677,"k":0.344,"prev":0.36,"ring":"t10"},{"mbr":687,"k":0.339,"prev":0.36,"ring":"t10"},{"mbr":679,"k":0.327,"prev":0.36},{"mbr":697,"k":0.319,"prev":0.36,"ring":"t10"},{"mbr":706,"k":0.319,"prev":0.36,"ring":"t10"},{"mbr":720,"k":0.309,"prev":0.36,"ring":"t10"},{"mbr":705,"k":0.263,"prev":0.38,"ring":"t10"},{"mbr":380,"k":0.355,"prev":0.12},{"mbr":420,"k":0.36,"prev":0.23},{"mbr":419,"k":0.355,"prev":0.22},{"mbr":441,"k":0.35,"prev":0.27,"ring":"t10"},{"mbr":456,"k":0.354,"prev":0.14},{"mbr":467,"k":0.353,"prev":0.26,"ring":"t10"},{"mbr":476,"k":0.346,"prev":0.2},{"mbr":490,"k":0.348,"prev":0.15},{"mbr":437,"k":0.339,"prev":0.24},{"mbr":462,"k":0.335,"prev":0.26,"ring":"t10"},{"mbr":492,"k":0.329,"prev":0.26,"ring":"t10"},{"mbr":506,"k":0.332,"prev":0.25,"ring":"t10"},{"mbr":515,"k":0.332,"prev":0.26,"ring":"t10"},{"mbr":530,"k":0.354,"prev":0.25,"ring":"t10"},{"mbr":552,"k":0.354,"prev":0.26,"ring":"t10"},{"mbr":578,"k":0.348,"prev":0.25,"ring":"t10"},{"mbr":591,"k":0.348,"prev":0.26,"ring":"t10"},{"mbr":609,"k":0.357,"prev":0.2},{"mbr":547,"k":0.337,"prev":0.25,"ring":"t10"},{"mbr":560,"k":0.337,"prev":0.25,"ring":"t10"},{"mbr":574,"k":0.334,"prev":0.26,"ring":"t10"},{"mbr":588,"k":0.322,"prev":0.36,"ring":"t10"},{"mbr":609,"k":0.344,"prev":0.36,"ring":"t10"},{"mbr":621,"k":0.341,"prev":0.36,"ring":"t10"},{"mbr":634,"k":0.341,"prev":0.28},{"mbr":645,"k":0.339,"prev":0.25,"ring":"t10"},{"mbr":658,"k":0.348,"prev":0.36,"ring":"t10"},{"mbr":636,"k":0.325,"prev":0.3,"ring":"t10","tri":"t20"},{"mbr":650,"k":0.324,"prev":0.25,"ring":"t10"},{"mbr":618,"k":0.332,"prev":0.26,"ring":"t10"},{"mbr":607,"k":0.332,"prev":0.23,"ring":"t10"},{"mbr":478,"k":0.322,"prev":0.25,"ring":"t10"},{"mbr":504,"k":0.318,"prev":0.25},{"mbr":522,"k":0.32,"prev":0.26,"ring":"t10"},{"mbr":540,"k":0.318,"prev":0.25,"ring":"t10"},{"mbr":558,"k":0.321,"prev":0.25,"ring":"t10"},{"mbr":575,"k":0.319,"prev":0.26,"ring":"t10"},{"mbr":580,"k":0.312,"prev":0.2},{"mbr":596,"k":0.311,"prev":0.33,"ring":"t10"},{"mbr":609,"k":0.314,"prev":0.17,"ring":"t10"},{"mbr":614,"k":0.315,"prev":0.27,"ring":"t10"},{"mbr":630,"k":0.314,"prev":0.24,"ring":"t10"},{"mbr":648,"k":0.306,"prev":0.25,"ring":"t10"},{"mbr":658,"k":0.314,"prev":0.36},{"mbr":666,"k":0.31,"prev":0.36,"ring":"t10"},{"mbr":670,"k":0.301,"prev":0.36,"ring":"t10"},{"mbr":684,"k":0.304,"prev":0.36,"ring":"t10"},{"mbr":677,"k":0.301,"prev":0.36},{"mbr":653,"k":0.29,"prev":0.36,"ring":"t10"},{"mbr":645,"k":0.291,"prev":0.26},{"mbr":627,"k":0.291,"prev":0.36,"ring":"t10"},{"mbr":614,"k":0.289,"prev":0.24,"ring":"t10"},{"mbr":618,"k":0.301,"prev":0.36,"ring":"t10"},{"mbr":609,"k":0.303,"prev":0.36},{"mbr":597,"k":0.287,"prev":0.33},{"mbr":591,"k":0.301,"prev":0.27},{"mbr":606,"k":0.277,"prev":0.24,"ring":"t10"},{"mbr":567,"k":0.301,"prev":0.32},{"mbr":549,"k":0.303,"prev":0.28},{"mbr":556,"k":0.308,"prev":0.26,"ring":"t10"},{"mbr":531,"k":0.3,"prev":0.22},{"mbr":506,"k":0.299,"prev":0.25,"ring":"t10"},{"mbr":495,"k":0.299,"prev":0.25},{"mbr":488,"k":0.303,"prev":0.25,"ring":"t10"},{"mbr":484,"k":0.308,"prev":0.25,"ring":"t10"},{"mbr":464,"k":0.305,"prev":0.18},{"mbr":448,"k":0.308,"prev":0.2},{"mbr":425,"k":0.312,"prev":0.26,"ring":"t10"},{"mbr":434,"k":0.319,"prev":0.25,"ring":"t10"},{"mbr":424,"k":0.32,"prev":0.25,"ring":"t10"},{"mbr":412,"k":0.31,"prev":0.18},{"mbr":407,"k":0.319,"prev":0.27},{"mbr":393,"k":0.321,"prev":0.27,"ring":"t10"},{"mbr":378,"k":0.322,"prev":0.2},{"mbr":429,"k":0.296,"prev":0.2},{"mbr":414,"k":0.29,"prev":0.26},{"mbr":443,"k":0.291,"prev":0.25,"ring":"t10"},{"mbr":438,"k":0.286,"prev":0.24},{"mbr":423,"k":0.276,"prev":0.17},{"mbr":435,"k":0.274,"prev":0.26,"ring":"t10"},{"mbr":455,"k":0.274,"prev":0.24},{"mbr":446,"k":0.27,"prev":0.24},{"mbr":464,"k":0.268,"prev":0.2},{"mbr":443,"k":0.258,"prev":0.21,"ring":"t10"},{"mbr":466,"k":0.254,"prev":0.25,"ring":"t10"},{"mbr":454,"k":0.244,"prev":0.26,"ring":"t10"},{"mbr":471,"k":0.248,"prev":0.27},{"mbr":479,"k":0.283,"prev":0.26,"ring":"t10"},{"mbr":478,"k":0.271,"prev":0.26,"ring":"t10"},{"mbr":476,"k":0.266,"prev":0.26,"ring":"t10"},{"mbr":519,"k":0.292,"prev":0.25},{"mbr":519,"k":0.282,"prev":0.25,"ring":"t10"},{"mbr":494,"k":0.264,"prev":0.26},{"mbr":506,"k":0.265,"prev":0.26,"ring":"t10"},{"mbr":515,"k":0.262,"prev":0.26},{"mbr":497,"k":0.256,"prev":0.26,"ring":"t10"},{"mbr":490,"k":0.25,"prev":0.25,"ring":"t10"},{"mbr":508,"k":0.256,"prev":0.26,"ring":"t10"},{"mbr":494,"k":0.241,"prev":0.27,"ring":"t10"},{"mbr":543,"k":0.282,"prev":0.26,"ring":"t10"},{"mbr":544,"k":0.272,"prev":0.26,"ring":"t10"},{"mbr":546,"k":0.263,"prev":0.26,"ring":"t10"},{"mbr":557,"k":0.273,"prev":0.33,"ring":"t10"},{"mbr":572,"k":0.286,"prev":0.2,"ring":"t10"},{"mbr":569,"k":0.28,"prev":0.25,"ring":"t10"},{"mbr":568,"k":0.263,"prev":0.26,"ring":"t10"},{"mbr":576,"k":0.26,"prev":0.33},{"mbr":556,"k":0.256,"prev":0.25,"ring":"t10"},{"mbr":597,"k":0.259,"prev":0.27,"ring":"t10"},{"mbr":609,"k":0.258,"prev":0.33,"ring":"t10"},{"mbr":602,"k":0.25,"prev":0.26,"ring":"t10"},{"mbr":597,"k":0.246,"prev":0.26},{"mbr":530,"k":0.245,"prev":0.27,"ring":"t10"},{"mbr":539,"k":0.241,"prev":0.23},{"mbr":555,"k":0.236,"prev":0.25,"ring":"t10"},{"mbr":549,"k":0.238,"prev":0.24},{"mbr":532,"k":0.227,"prev":0.25,"ring":"t10"},{"mbr":542,"k":0.225,"prev":0.25,"ring":"t10"},{"mbr":556,"k":0.22,"prev":0.25,"ring":"t10"},{"mbr":569,"k":0.22,"prev":0.23},{"mbr":530,"k":0.216,"prev":0.27,"ring":"t10"},{"mbr":476,"k":0.209,"prev":0.27,"ring":"t10"},{"mbr":482,"k":0.204,"prev":0.27},{"mbr":492,"k":0.196,"prev":0.25},{"mbr":508,"k":0.209,"prev":0.27,"ring":"t10"},{"mbr":509,"k":0.208,"prev":0.26,"ring":"t10"},{"mbr":509,"k":0.198,"prev":0.27,"ring":"t10"},{"mbr":522,"k":0.196,"prev":0.27,"ring":"t10"},{"mbr":528,"k":0.188,"prev":0.27,"ring":"t10"},{"mbr":499,"k":0.189,"prev":0.26,"ring":"t10"},{"mbr":560,"k":0.197,"prev":0.25,"ring":"t10"},{"mbr":503,"k":0.171,"prev":0.27,"ring":"t10"},{"mbr":531,"k":0.172,"prev":0.27,"ring":"t10"},{"mbr":649,"k":0.213,"prev":0.29,"ring":"t10"},{"mbr":641,"k":0.188,"prev":0.26,"ring":"t10"},{"mbr":658,"k":0.154,"prev":0.27,"ring":"t10"},
{"mbr":459,"k":0.16,"prev":0.2,"ring":"t10"},{"mbr":447,"k":0.166,"prev":0.22,"ring":"t10"},{"mbr":448,"k":0.187,"prev":0.2,"ring":"t10"},{"mbr":440,"k":0.186,"prev":0.24,"ring":"t10"},{"mbr":428,"k":0.196,"prev":0.2,"ring":"t10"},{"mbr":419,"k":0.196,"prev":0.2,"ring":"t10"},{"mbr":413,"k":0.189,"prev":0.2,"ring":"t10"},{"mbr":407,"k":0.198,"prev":0.18,"ring":"t10"},{"mbr":398,"k":0.194,"prev":0.18},{"mbr":431,"k":0.214,"prev":0.2,"ring":"t10"},{"mbr":436,"k":0.225,"prev":0.22,"ring":"t10"},{"mbr":419,"k":0.242,"prev":0.22,"ring":"t10"},{"mbr":430,"k":0.238,"prev":0.2,"ring":"t10"},{"mbr":425,"k":0.234,"prev":0.2,"ring":"t10"},{"mbr":408,"k":0.228,"prev":0.23,"ring":"t10"},{"mbr":401,"k":0.238,"prev":0.2},{"mbr":391,"k":0.246,"prev":0.2,"ring":"t10"},{"mbr":385,"k":0.216,"prev":0.18,"ring":"t10"},{"mbr":396,"k":0.218,"prev":0.18},{"mbr":411,"k":0.266,"prev":0.16},{"mbr":413,"k":0.252,"prev":0.18},{"mbr":440,"k":0.134,"prev":0.2,"ring":"t10"},{"mbr":414,"k":0.157,"prev":0.18,"ring":"t10"},{"mbr":421,"k":0.156,"prev":0.18},{"mbr":419,"k":0.145,"prev":0.18},{"mbr":415,"k":0.136,"prev":0.17,"ring":"t10"},{"mbr":388,"k":0.16,"prev":0.18,"ring":"t10"},{"mbr":376,"k":0.167,"prev":0.17},{"mbr":380,"k":0.196,"prev":0.2},{"mbr":396,"k":0.18,"prev":0.18},{"mbr":394,"k":0.176,"prev":0.17},{"mbr":383,"k":0.191,"prev":0.2,"ring":"t10"},{"mbr":392,"k":0.256,"prev":0.14},
{"mbr":102,"k":0.328,"prev":0.03},{"mbr":121,"k":0.325,"prev":0.07},{"mbr":134,"k":0.328,"prev":0.11},{"mbr":170,"k":0.334,"prev":0.06},{"mbr":186,"k":0.343,"prev":0.04},{"mbr":197,"k":0.327,"prev":0.04},{"mbr":201,"k":0.352,"prev":0.11},{"mbr":237,"k":0.342,"prev":0.12},{"mbr":236,"k":0.336,"prev":0.12},{"mbr":227,"k":0.323,"prev":0.09},{"mbr":249,"k":0.331,"prev":0.12},{"mbr":258,"k":0.321,"prev":0.04},{"mbr":277,"k":0.336,"prev":0.04},{"mbr":276,"k":0.35,"prev":0.09},{"mbr":293,"k":0.336,"prev":0.13},{"mbr":296,"k":0.33,"prev":0.04},{"mbr":311,"k":0.325,"prev":0.12},{"mbr":317,"k":0.318,"prev":0.05},{"mbr":320,"k":0.332,"prev":0.04},{"mbr":334,"k":0.339,"prev":0.15},{"mbr":347,"k":0.346,"prev":0.11},{"mbr":331,"k":0.354,"prev":0.04},{"mbr":379,"k":0.355,"prev":0.12},{"mbr":377,"k":0.322,"prev":0.2},{"mbr":394,"k":0.322,"prev":0.28,"ring":"t10"},{"mbr":407,"k":0.319,"prev":0.3},{"mbr":424,"k":0.328,"prev":0.11},{"mbr":426,"k":0.312,"prev":0.28,"ring":"t10"},{"mbr":434,"k":0.319,"prev":0.26},{"mbr":450,"k":0.316,"prev":0.23},{"mbr":465,"k":0.305,"prev":0.18},{"mbr":367,"k":0.311,"prev":0.09},{"mbr":348,"k":0.307,"prev":0.04},{"mbr":323,"k":0.305,"prev":0.12},{"mbr":287,"k":0.318,"prev":0.14},{"mbr":268,"k":0.308,"prev":0.15},{"mbr":270,"k":0.301,"prev":0.15},{"mbr":293,"k":0.307,"prev":0.11},{"mbr":299,"k":0.293,"prev":0.12},{"mbr":250,"k":0.303,"prev":0.04},{"mbr":264,"k":0.312,"prev":0.14},{"mbr":164,"k":0.3,"prev":0.11},{"mbr":108,"k":0.294,"prev":0.08},{"mbr":117,"k":0.28,"prev":0.08},{"mbr":176,"k":0.282,"prev":0.09},{"mbr":189,"k":0.273,"prev":0.11},{"mbr":202,"k":0.277,"prev":0.11},{"mbr":222,"k":0.267,"prev":0.12},{"mbr":164,"k":0.251,"prev":0.13},{"mbr":189,"k":0.246,"prev":0.12},{"mbr":194,"k":0.246,"prev":0.12},{"mbr":218,"k":0.252,"prev":0.13},{"mbr":219,"k":0.288,"prev":0.04},{"mbr":232,"k":0.283,"prev":0.1},{"mbr":234,"k":0.276,"prev":0.05},{"mbr":248,"k":0.267,"prev":0.09},{"mbr":241,"k":0.263,"prev":0.05},{"mbr":252,"k":0.261,"prev":0.04},{"mbr":257,"k":0.29,"prev":0.05},{"mbr":252,"k":0.301,"prev":0.03},{"mbr":261,"k":0.245,"prev":0.13},{"mbr":279,"k":0.278,"prev":0.15,"ring":"t10"},{"mbr":284,"k":0.238,"prev":0.04,"ring":"t10"},{"mbr":270,"k":0.263,"prev":0.04},{"mbr":282,"k":0.258,"prev":0.04},{"mbr":273,"k":0.249,"prev":0.04},{"mbr":306,"k":0.26,"prev":0.17},{"mbr":306,"k":0.281,"prev":0.04},{"mbr":320,"k":0.299,"prev":0.16},{"mbr":333,"k":0.276,"prev":0.19},{"mbr":340,"k":0.272,"prev":0.17},{"mbr":331,"k":0.293,"prev":0.13},{"mbr":318,"k":0.285,"prev":0.13},{"mbr":345,"k":0.291,"prev":0.17},{"mbr":365,"k":0.296,"prev":0.2},{"mbr":374,"k":0.287,"prev":0.2},{"mbr":385,"k":0.283,"prev":0.11},{"mbr":389,"k":0.275,"prev":0.04},{"mbr":402,"k":0.276,"prev":0.1},{"mbr":360,"k":0.265,"prev":0.18},{"mbr":376,"k":0.264,"prev":0.24,"ring":"t10"},{"mbr":335,"k":0.254,"prev":0.21,"ring":"t10"},{"mbr":326,"k":0.248,"prev":0.2},{"mbr":362,"k":0.24,"prev":0.2},{"mbr":369,"k":0.252,"prev":0.24},{"mbr":390,"k":0.247,"prev":0.27,"ring":"t10"},{"mbr":392,"k":0.258,"prev":0.18},{"mbr":410,"k":0.266,"prev":0.18,"ring":"t10"},{"mbr":414,"k":0.254,"prev":0.17},{"mbr":417,"k":0.24,"prev":0.18},{"mbr":418,"k":0.242,"prev":0.25,"ring":"t10"},{"mbr":401,"k":0.238,"prev":0.22},{"mbr":430,"k":0.238,"prev":0.27,"ring":"t10"},{"mbr":425,"k":0.231,"prev":0.27,"ring":"t10"},{"mbr":435,"k":0.226,"prev":0.25,"ring":"t10"},{"mbr":431,"k":0.214,"prev":0.25,"ring":"t10"},{"mbr":409,"k":0.228,"prev":0.27,"ring":"t10"},{"mbr":397,"k":0.218,"prev":0.22,"ring":"t10"},{"mbr":412,"k":0.218,"prev":0.24},{"mbr":386,"k":0.215,"prev":0.2,"ring":"t10"},{"mbr":373,"k":0.227,"prev":0.22,"ring":"t10"},{"mbr":358,"k":0.231,"prev":0.22},{"mbr":354,"k":0.235,"prev":0.28,"ring":"t10"},{"mbr":315,"k":0.229,"prev":0.22,"ring":"t10"},{"mbr":335,"k":0.216,"prev":0.2},{"mbr":349,"k":0.212,"prev":0.02,"ring":"t10"},{"mbr":339,"k":0.236,"prev":0.05,"ring":"t10"},{"mbr":322,"k":0.247,"prev":0.2},{"mbr":295,"k":0.24,"prev":0.18},{"mbr":279,"k":0.227,"prev":0.04},{"mbr":294,"k":0.222,"prev":0.05},{"mbr":264,"k":0.213,"prev":0.04},{"mbr":281,"k":0.212,"prev":0.22,"ring":"t10"},{"mbr":313,"k":0.209,"prev":0.05},{"mbr":300,"k":0.197,"prev":0.02,"ring":"t10"},{"mbr":287,"k":0.199,"prev":0.2,"ring":"t10"},{"mbr":253,"k":0.196,"prev":0.23,"ring":"t10"},{"mbr":228,"k":0.19,"prev":0.03,"ring":"t10"},{"mbr":322,"k":0.198,"prev":0.22,"ring":"t10"},{"mbr":335,"k":0.205,"prev":0.22,"ring":"t10"},{"mbr":317,"k":0.185,"prev":0.2,"ring":"t10"},{"mbr":353,"k":0.189,"prev":0.26,"ring":"t10"},{"mbr":366,"k":0.184,"prev":0.2,"ring":"t10"},{"mbr":383,"k":0.193,"prev":0.2,"ring":"t10"},{"mbr":396,"k":0.196,"prev":0.19,"ring":"t10"},{"mbr":427,"k":0.196,"prev":0.24,"ring":"t10"},{"mbr":413,"k":0.189,"prev":0.3,"ring":"t10"},{"mbr":440,"k":0.187,"prev":0.26},{"mbr":450,"k":0.187,"prev":0.24},{"mbr":462,"k":0.18,"prev":0.27,"ring":"t10","tri":"t20"},{"mbr":396,"k":0.18,"prev":0.21},{"mbr":385,"k":0.178,"prev":0.18},{"mbr":376,"k":0.167,"prev":0.18,"ring":"t10"},{"mbr":387,"k":0.16,"prev":0.2,"ring":"t10"},{"mbr":366,"k":0.172,"prev":0.2,"ring":"t10"},{"mbr":340,"k":0.173,"prev":0.18,"ring":"t10"},{"mbr":338,"k":0.18,"prev":0.18,"ring":"t10"},{"mbr":353,"k":0.16,"prev":0.2,"ring":"t10"},{"mbr":367,"k":0.155,"prev":0.18,"ring":"t10"},{"mbr":347,"k":0.15,"prev":0.18,"ring":"t10"},{"mbr":362,"k":0.142,"prev":0.17,"ring":"t10"},{"mbr":352,"k":0.141,"prev":0.19,"ring":"t10"},{"mbr":343,"k":0.133,"prev":0.17,"ring":"t10"},{"mbr":368,"k":0.126,"prev":0.16,"ring":"t10"},{"mbr":414,"k":0.158,"prev":0.22,"ring":"t10"},{"mbr":418,"k":0.144,"prev":0.18},{"mbr":440,"k":0.134,"prev":0.2},{"mbr":425,"k":0.115,"prev":0.18},{"mbr":426,"k":0.1,"prev":0.16,"ring":"t10","tri":"t20"},{"mbr":324,"k":0.157,"prev":0.2,"ring":"t10","tri":"t20"},{"mbr":322,"k":0.162,"prev":0.2},{"mbr":327,"k":0.149,"prev":0.17,"ring":"t10"},{"mbr":320,"k":0.135,"prev":0.2,"ring":"t10"},{"mbr":318,"k":0.131,"prev":0.2},{"mbr":334,"k":0.12,"prev":0.16},{"mbr":331,"k":0.11,"prev":0.18,"ring":"t10"},{"mbr":330,"k":0.101,"prev":0.15,"ring":"t10"},{"mbr":322,"k":0.114,"prev":0.17,"ring":"t10"},{"mbr":309,"k":0.101,"prev":0.16,"ring":"t10"},{"mbr":300,"k":0.102,"prev":0.15,"ring":"t10"},{"mbr":314,"k":0.113,"prev":0.15},{"mbr":298,"k":0.138,"prev":0.17,"ring":"t10"},{"mbr":299,"k":0.124,"prev":0.17,"ring":"t10"},{"mbr":289,"k":0.122,"prev":0.2,"ring":"t10"},{"mbr":290,"k":0.142,"prev":0.16,"ring":"t10"},{"mbr":295,"k":0.155,"prev":0.16,"ring":"t10"},{"mbr":287,"k":0.158,"prev":0.16,"ring":"t10"},{"mbr":280,"k":0.162,"prev":0.22,"ring":"t10"},{"mbr":267,"k":0.161,"prev":0.16,"ring":"t10"},{"mbr":257,"k":0.123,"prev":0.2,"ring":"t10"},{"mbr":270,"k":0.135,"prev":0.16,"ring":"t10"},{"mbr":275,"k":0.124,"prev":0.16,"ring":"t10"},{"mbr":264,"k":0.113,"prev":0.16,"ring":"t10"},{"mbr":268,"k":0.112,"prev":0.15,"ring":"t10"},{"mbr":283,"k":0.108,"prev":0.15},{"mbr":271,"k":0.107,"prev":0.15,"ring":"t10"},{"mbr":297,"k":0.113,"prev":0.16,"ring":"t10"},{"mbr":290,"k":0.129,"prev":0.16},{"mbr":277,"k":0.144,"prev":0.16},{"mbr":261,"k":0.147,"prev":0.16},{"mbr":250,"k":0.135,"prev":0.16},{"mbr":246,"k":0.14,"prev":0.15},{"mbr":243,"k":0.149,"prev":0.14,"ring":"t10"},{"mbr":255,"k":0.158,"prev":0.04},{"mbr":234,"k":0.155,"prev":0.05},{"mbr":225,"k":0.149,"prev":0.04},{"mbr":203,"k":0.15,"prev":0.12,"ring":"t10"},{"mbr":189,"k":0.15,"prev":0.04},{"mbr":183,"k":0.142,"prev":0.12},{"mbr":176,"k":0.147,"prev":0.11},{"mbr":172,"k":0.16,"prev":0.04},{"mbr":194,"k":0.135,"prev":0.13},{"mbr":201,"k":0.124,"prev":0.14},{"mbr":214,"k":0.117,"prev":0.15,"ring":"t10"},{"mbr":231,"k":0.122,"prev":0.15,"ring":"t10"},{"mbr":240,"k":0.109,"prev":0.14,"ring":"t10"},{"mbr":231,"k":0.11,"prev":0.15,"ring":"t10"},{"mbr":227,"k":0.101,"prev":0.1,"ring":"t10"},{"mbr":210,"k":0.103,"prev":0.1,"ring":"t10"},{"mbr":222,"k":0.107,"prev":0.14},{"mbr":250,"k":0.117,"prev":0.15},{"mbr":241,"k":0.12,"prev":0.16},{"mbr":187,"k":0.111,"prev":0.12},{"mbr":183,"k":0.124,"prev":0.12},{"mbr":178,"k":0.117,"prev":0.12},{"mbr":172,"k":0.124,"prev":0.12},{"mbr":162,"k":0.129,"prev":0.12},{"mbr":152,"k":0.118,"prev":0.12},{"mbr":167,"k":0.11,"prev":0.12},{"mbr":170,"k":0.117,"prev":0.12},{"mbr":156,"k":0.104,"prev":0.12},{"mbr":167,"k":0.101,"prev":0.12},{"mbr":124,"k":0.105,"prev":0.08,"ring":"t10"},{"mbr":111,"k":0.143,"prev":0.07},{"mbr":115,"k":0.135,"prev":0.05},{"mbr":122,"k":0.152,"prev":0.1},{"mbr":131,"k":0.155,"prev":0.1},{"mbr":133,"k":0.147,"prev":0.1},{"mbr":120,"k":0.167,"prev":0.04},{"mbr":140,"k":0.173,"prev":0.12},{"mbr":157,"k":0.172,"prev":0.1},{"mbr":119,"k":0.205,"prev":0.08},{"mbr":129,"k":0.198,"prev":0.08},{"mbr":100,"k":0.218,"prev":0.03},{"mbr":129,"k":0.222,"prev":0.09},{"mbr":149,"k":0.227,"prev":0.04},{"mbr":169,"k":0.186,"prev":0.08},{"mbr":179,"k":0.194,"prev":0.05},{"mbr":198,"k":0.189,"prev":0.12},{"mbr":205,"k":0.225,"prev":0.08},{"mbr":228,"k":0.22,"prev":0.06},{"mbr":221,"k":0.218,"prev":0.11},{"mbr":216,"k":0.209,"prev":0.12},{"mbr":207,"k":0.196,"prev":0.13},{"mbr":203,"k":0.2,"prev":0.05},{"mbr":187,"k":0.176,"prev":0.12},{"mbr":196,"k":0.176,"prev":0.13},{"mbr":207,"k":0.176,"prev":0.06},{"mbr":219,"k":0.176,"prev":0.14},{"mbr":230,"k":0.176,"prev":0.15},{"mbr":196,"k":0.16,"prev":0.12},{"mbr":234,"k":0.234,"prev":0.14},{"mbr":250,"k":0.216,"prev":0.15},{"mbr":241,"k":0.229,"prev":0.14},{"mbr":259,"k":0.243,"prev":0.13},{"mbr":230,"k":0.2,"prev":0.14},{"mbr":239,"k":0.191,"prev":0.15},{"mbr":266,"k":0.198,"prev":0.15},{"mbr":250,"k":0.173,"prev":0.18},{"mbr":269,"k":0.178,"prev":0.05},{"mbr":232,"k":0.162,"prev":0.15},{"mbr":275,"k":0.182,"prev":0.16},{"mbr":290,"k":0.189,"prev":0.16},{"mbr":297,"k":0.176,"prev":0.16},{"mbr":306,"k":0.169,"prev":0.17},{"mbr":309,"k":0.184,"prev":0.15},{"mbr":297,"k":0.243,"prev":0.17},{"mbr":304,"k":0.225,"prev":0.15},{"mbr":313,"k":0.176,"prev":0.16},{"mbr":264,"k":0.131,"prev":0.15},{"mbr":257,"k":0.142,"prev":0.16},{"mbr":246,"k":0.113,"prev":0.16}
],"boxes":[{"mbr":300,"k":0.5,"box":"a"},{"mbr":300,"k":0.5,"box":"b"}]},"layer":[{"data":{"values":[{"mbr":250},{"mbr":750}]},"mark":{"type":"rule","color":"white","strokeWidth":1},"encoding":{"x":{"field":"mbr","type":"quantitative","scale":{"domain":[52.6,1100],"nice":false,"zero":false},"axis":{"values":[500,1000],"format":"d","grid":true,"gridColor":"white","gridWidth":2,"domain":false,"tickColor":"#333333","tickWidth":2,"tickSize":7,"labelColor":"#4D4D4D","labelFontSize":23,"labelPadding":4,"title":"mbr","titleFontSize":28,"titleFontWeight":"normal","titleColor":"#000","titlePadding":9}}}},{"data":{"values":[{"k":0.1},{"k":0.3},{"k":0.5},{"k":0.7}]},"mark":{"type":"rule","color":"white","strokeWidth":1},"encoding":{"y":{"field":"k","type":"quantitative","scale":{"domain":[0.063,0.835],"nice":false,"zero":false},"axis":{"values":[0.2,0.4,0.6,0.8],"format":".1f","grid":true,"gridColor":"white","gridWidth":2,"domain":false,"tickColor":"#333333","tickWidth":2,"tickSize":7,"labelColor":"#4D4D4D","labelFontSize":23,"labelPadding":7,"title":"k","titleFontSize":28,"titleFontWeight":"normal","titleColor":"#000","titlePadding":8}}}},{"data":{"name":"boxes"},"mark":{"type":"point","opacity":0,"filled":true},"encoding":{"x":{"field":"mbr","type":"quantitative"},"y":{"field":"k","type":"quantitative"},"size":{"field":"box","type":"nominal","scale":{"domain":["a","b"],"range":[1849,1849]},"legend":{"orient":"none","legendX":823,"legendY":420,"title":null,"symbolType":"square","symbolStrokeWidth":0,"rowPadding":3,"labelExpr":"''","encoding":{"symbols":{"fill":{"value":"#F2F2F2"},"stroke":{"value":"#F2F2F2"},"strokeWidth":{"value":0},"opacity":{"value":1},"fillOpacity":{"value":1}}}}}}},{"data":{"name":"pts"},"mark":{"type":"circle","size":100,"opacity":0.95},"encoding":{"x":{"field":"mbr","type":"quantitative"},"y":{"field":"k","type":"quantitative"},"color":{"field":"prev","type":"quantitative","scale":{"domain":[-0.0105,0,0.04,0.1,0.15,0.2,0.3,0.35,0.392],"range":["#F2F2F2","#F2F2F2","#F4D8D0","#EDAB85","#E8B24A","#E6E60A","#6FCC00","#1FAF0A","#0FAB0C"]},"legend":{"orient":"none","legendX":823,"legendY":67,"title":"mf prev. (t = 0):","titleFontSize":29.7,"titleLimit":400,"titleFontWeight":"normal","titleColor":"#000","titlePadding":3,"gradientLength":228,"gradientThickness":46,"gradientStrokeWidth":0,"values":[0,0.1,0.2,0.3,0.39],"labelExpr":"datum.value>0.35?'0.4':format(datum.value,'.1f')","labelFontSize":23,"labelColor":"#000","labelOffset":12}}}},{"data":{"name":"pts"},"transform":[{"filter":"datum.ring=='t10'"}],"mark":{"type":"point","filled":false,"size":100,"stroke":"#000","strokeWidth":1.3,"strokeOpacity":0.65},"encoding":{"x":{"field":"mbr","type":"quantitative"},"y":{"field":"k","type":"quantitative"},"shape":{"field":"ring","type":"nominal","scale":{"domain":["t10","t20"],"range":["circle","triangle-up"]},"legend":{"orient":"none","legendX":834,"legendY":432,"title":null,"symbolSize":100,"labelFontSize":23,"labelLimit":300,"labelColor":"#000","labelOffset":16,"rowPadding":22,"labelExpr":"datum.value=='t10'?'mf prev (t = 10) >1%':'mf prev (t = 20) >1%'","encoding":{"symbols":{"fill":{"value":"transparent"},"stroke":{"value":{"expr":"datum.value=='t10'?'#888':'#222'"}},"strokeWidth":{"value":1.2},"size":{"value":{"expr":"datum.value=='t10'?90:170"}}}}}}}},{"data":{"name":"pts"},"transform":[{"filter":"datum.tri=='t20'"}],"mark":{"type":"point","filled":false,"size":150,"stroke":"#000","strokeWidth":1.5},"encoding":{"x":{"field":"mbr","type":"quantitative"},"y":{"field":"k","type":"quantitative"},"shape":{"field":"tri","type":"nominal"}}}]}
